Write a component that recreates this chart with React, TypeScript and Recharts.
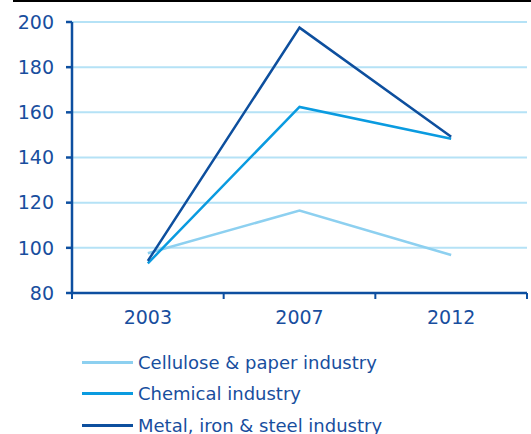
import React from "react";
import { LineChart, Line, XAxis, YAxis, CartesianGrid } from "recharts";

const categories = ["2003", "2007", "2012"];
const cellulose = [97.6, 116.5, 96.8];
const chemical = [93.1, 162.4, 148.3];
const metal = [94.2, 197.5, 149.2];
const yTicks = [80, 100, 120, 140, 160, 180, 200];
const seriesNames = ["Cellulose & paper industry", "Chemical industry", "Metal, iron & steel industry"];
const seriesColors = ["#8dd0f0", "#0a9be0", "#0d4f9e"];

const data = categories.map((c, i) => ({
  x: i + 0.5,
  cat: c,
  cellulose: cellulose[i],
  chemical: chemical[i],
  metal: metal[i],
}));

const xTicks = [0, 0.5, 1, 1.5, 2, 2.5, 3];
const AXIS = "#0d4fa0";
const TEXT = "#184e9e";
const FONT = "'DejaVu Sans', sans-serif";

const XTick = (props: any) => {
  const { x, y, payload } = props;
  const v = payload.value as number;
  if (Number.isInteger(v)) {
    return <line x1={x} x2={x} y1={y} y2={y + 6} stroke={AXIS} strokeWidth={2} />;
  }
  const label = categories[Math.floor(v)];
  return (
    <text x={x} y={y + 31} textAnchor="middle" fill={TEXT} fontSize={19} fontFamily={FONT}>
      {label}
    </text>
  );
};

export default function App() {
  const keys = ["cellulose", "chemical", "metal"];
  return (
    <div style={{ position: "absolute", left: 0, top: 0, width: 531, height: 434, background: "#fff" }}>
      <div style={{ position: "absolute", left: 13, top: 0, width: 518, height: 2, background: "#000" }} />
      <LineChart
        width={531}
        height={434}
        data={data}
        margin={{ top: 22, right: 4, left: 0, bottom: 101 }}
      >
        <CartesianGrid horizontal vertical={false} stroke="#b5e2f6" strokeWidth={2} />
        <XAxis
          dataKey="x"
          type="number"
          domain={[0, 3]}
          ticks={xTicks}
          interval={0}
          tick={<XTick />}
          tickLine={false}
          tickSize={0}
          tickMargin={0}
          height={40}
          axisLine={{ stroke: AXIS, strokeWidth: 2.5 }}
        />
        <YAxis
          domain={[80, 200]}
          ticks={yTicks}
          interval={0}
          width={72}
          tickSize={6}
          tickMargin={12}
          tickLine={{ stroke: AXIS, strokeWidth: 2.5 }}
          axisLine={{ stroke: AXIS, strokeWidth: 2.5 }}
          tick={{ fill: TEXT, fontSize: 19, fontFamily: FONT }}
        />
        {keys.map((k, i) => (
          <Line
            key={k}
            dataKey={k}
            stroke={seriesColors[i]}
            strokeWidth={2.5}
            dot={false}
            activeDot={false}
            isAnimationActive={false}
          />
        ))}
      </LineChart>
      {seriesNames.map((n, i) => (
        <div
          key={n}
          style={{
            position: "absolute",
            left: 82,
            top: 350 + i * 31.5,
            height: 24,
            display: "flex",
            alignItems: "center",
            fontFamily: FONT,
            fontSize: 18,
            color: TEXT,
            whiteSpace: "nowrap",
          }}
        >
          <span style={{ display: "inline-block", width: 51, height: 3, background: seriesColors[i], marginRight: 5 }} />
          {n}
        </div>
      ))}
    </div>
  );
}
